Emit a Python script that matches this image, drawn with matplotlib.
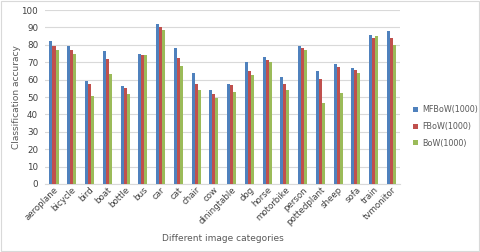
import numpy as np
import matplotlib
matplotlib.use('Agg')
import matplotlib.pyplot as plt

categories = ['aeroplane', 'bicycle', 'bird', 'boat', 'bottle', 'bus', 'car', 'cat', 'chair', 'cow',
              'diningtable', 'dog', 'horse', 'motorbike', 'person', 'pottedplant', 'sheep', 'sofa',
              'train', 'tvmonitor']
mfbow = [82.0, 79.2, 59.3, 76.3, 56.6, 74.8, 91.8, 78.4, 63.7, 54.1,
         57.7, 70.0, 73.2, 61.4, 79.5, 64.8, 69.2, 66.9, 85.5, 87.8]
fbow = [79.2, 76.9, 57.7, 71.9, 55.1, 74.0, 90.2, 72.5, 57.7, 51.6,
        56.8, 65.0, 71.1, 57.4, 78.0, 60.6, 67.1, 65.4, 83.9, 84.1]
bow = [77.1, 74.6, 50.5, 63.1, 51.8, 74.0, 88.7, 67.7, 54.3, 49.3,
       53.0, 62.9, 70.2, 54.1, 76.9, 46.8, 52.2, 63.7, 84.9, 79.9]
series_names = ['MFBoW(1000)', 'FBoW(1000)', 'BoW(1000)']
colors = ['#4F81BD', '#C0504D', '#9BBB59']

fig = plt.figure(figsize=(4.8, 2.52), dpi=100)
ax = fig.add_axes([0.094, 0.27, 0.74, 0.69])

x = np.arange(len(categories))
w = 0.17
for i, (vals, name) in enumerate(zip([mfbow, fbow, bow], series_names)):
    ax.bar(x + (i - 1) * w, vals, w, color=colors[i], label=name, zorder=3)

ax.set_xlim(-0.5, len(categories) - 0.5)
ax.set_ylim(0, 100)
ax.set_yticks(range(0, 101, 10))
ax.tick_params(axis='y', labelsize=6.3, length=0, colors='#404040', pad=5)
ax.tick_params(axis='x', labelsize=6.2, length=0, colors='#404040', pad=1)
ax.set_xticks(x)
ax.set_xticklabels(categories, rotation=45, ha='right', rotation_mode='anchor')
ax.grid(axis='y', color='#D9D9D9', linewidth=0.8, zorder=0)
for s in ['top', 'right', 'left']:
    ax.spines[s].set_visible(False)
ax.spines['bottom'].set_color('#D9D9D9')

ax.set_ylabel('Classification accuracy', fontsize=6.5, color='#595959', labelpad=0)
ax.set_xlabel('Different image categories', fontsize=6.5, color='#595959', labelpad=5)

ax.legend(loc='center left', bbox_to_anchor=(1.02, 0.33), frameon=False, fontsize=5.8,
          handlelength=0.6, handleheight=0.6, handletextpad=0.5, labelspacing=0.95,
          labelcolor='#595959', borderaxespad=0.3)

border = plt.Rectangle((0.002, 0.004), 0.996, 0.992, transform=fig.transFigure,
                       fill=False, edgecolor='#D9D9D9', linewidth=0.8)
fig.patches.append(border)

fig.savefig('out.png', dpi=100)
